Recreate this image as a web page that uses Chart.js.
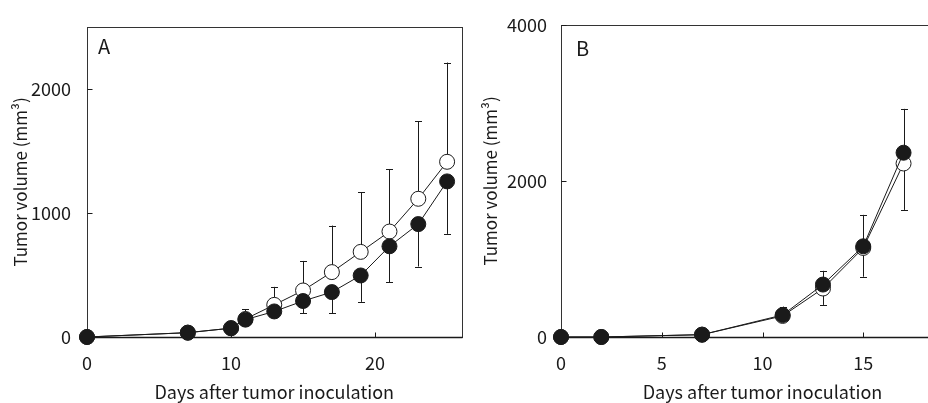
<!DOCTYPE html>
<html>
<head>
<meta charset="utf-8">
<script src="https://cdn.jsdelivr.net/npm/chart.js@4"></script>
<style>
  html, body { margin: 0; padding: 0; background: #fff; overflow: hidden; }
  #wrap { position: relative; width: 928px; height: 403px; overflow: hidden; }
  #chartA { position: absolute; left: 0; top: 0; }
  #chartB { position: absolute; left: 470px; top: 0; }
</style>
</head>
<body>
<div id="wrap">
  <canvas id="chartA" width="470" height="403"></canvas>
  <canvas id="chartB" width="519" height="403"></canvas>
</div>
<script>
// Panel A
const daysA = [0, 7, 10, 11, 13, 15, 17, 19, 21, 23, 25];
const filledA = [0, 35, 71, 140, 206, 290, 362, 496, 731, 910, 1254];
const filledErrA = [0, 0, 0, 0, 0, 100, 172, 213, 290, 342, 423];   // drawn downward
const openA = [0, 35, 71, 145, 259, 375, 523, 686, 850, 1114, 1412];
const openErrA = [0, 0, 0, 80, 145, 238, 375, 481, 504, 625, 800];   // drawn upward
const xTicksA = [0, 10, 20];
const yTicksA = [0, 1000, 2000];

// Panel B
const daysB = [0, 2, 7, 11, 13, 15, 17];
const filledB = [0, 0, 30, 282, 672, 1162, 2361];
const filledErrB = [0, 0, 0, 108, 176, 403, 562];   // drawn upward
const openB = [0, 0, 30, 270, 621, 1141, 2223];
const openErrB = [0, 0, 0, 0, 210, 369, 595];      // drawn downward
const xTicksB = [0, 5, 10, 15, 20];
const yTicksB = [0, 2000, 4000];

const ink = '#1a1a1a';
const fontFamily = '"Noto Sans CJK JP", "Noto Sans", sans-serif';

function points(xs, ys) {
    return xs.map((x, i) => ({ x: x, y: ys[i] }));
}

// error bars, frame, inward ticks and the panel letter
const decorations = {
    id: 'decorations',
    beforeDatasetsDraw(chart, args, opts) {
        const ctx = chart.ctx;
        const xs = chart.scales.x;
        const ys = chart.scales.y;
        const area = chart.chartArea;
        ctx.save();
        ctx.strokeStyle = ink;
        ctx.lineWidth = 1;

        // error bars
        opts.errors.forEach(err => {
            err.days.forEach((d, i) => {
                if (!err.sd[i]) return;
                const px = Math.round(xs.getPixelForValue(d)) + 0.5;
                const y0 = ys.getPixelForValue(err.mean[i]);
                const y1 = ys.getPixelForValue(err.mean[i] + err.dir * err.sd[i]);
                ctx.beginPath();
                ctx.moveTo(px, y0);
                ctx.lineTo(px, y1);
                ctx.moveTo(px - 3.5, Math.round(y1) + 0.5);
                ctx.lineTo(px + 3.5, Math.round(y1) + 0.5);
                ctx.stroke();
            });
        });

        // frame
        const l = Math.round(area.left) + 0.5;
        const r = Math.round(area.right) + 0.5;
        const t = Math.round(area.top) + 0.5;
        const b = Math.round(area.bottom) + 0.5;
        ctx.strokeStyle = '#333';
        ctx.strokeRect(l, t, r - l, b - t);
        ctx.strokeStyle = ink;
        ctx.lineWidth = 1.4;
        ctx.beginPath();
        ctx.moveTo(l, b);
        ctx.lineTo(r, b);
        ctx.stroke();

        // inward ticks
        ctx.lineWidth = 1;
        ctx.beginPath();
        xs.ticks.forEach(tk => {
            const px = Math.round(xs.getPixelForValue(tk.value)) + 0.5;
            ctx.moveTo(px, b);
            ctx.lineTo(px, b - 5);
        });
        ys.ticks.forEach(tk => {
            const py = Math.round(ys.getPixelForValue(tk.value)) + 0.5;
            ctx.moveTo(l, py);
            ctx.lineTo(l + 5, py);
        });
        ctx.stroke();

        // panel letter
        ctx.fillStyle = ink;
        ctx.font = '20px ' + fontFamily;
        ctx.textBaseline = 'alphabetic';
        ctx.fillText(opts.letter, area.left + opts.letterDx, area.top + opts.letterDy);
        ctx.restore();
    }
};

function makeChart(id, cfg) {
    return new Chart(document.getElementById(id), {
        type: 'line',
        data: {
            datasets: [
                {
                    label: 'filled',
                    data: points(cfg.days, cfg.filled),
                    borderColor: ink,
                    borderWidth: 1,
                    backgroundColor: ink,
                    pointBackgroundColor: ink,
                    pointBorderColor: ink,
                    pointBorderWidth: 1,
                    pointRadius: 7.5,
                    tension: 0,
                    clip: false
                },
                {
                    label: 'open',
                    data: points(cfg.days, cfg.open),
                    borderColor: ink,
                    borderWidth: 1,
                    pointBackgroundColor: '#fff',
                    pointBorderColor: ink,
                    pointBorderWidth: 1,
                    pointRadius: 7.5,
                    tension: 0,
                    clip: false
                }
            ]
        },
        options: {
            responsive: false,
            animation: false,
            events: [],
            layout: { padding: { top: cfg.padTop, right: 7, left: 0, bottom: 0 } },
            plugins: {
                legend: { display: false },
                tooltip: { enabled: false },
                decorations: {
                    letter: cfg.letter,
                    letterDx: cfg.letterDx,
                    letterDy: cfg.letterDy,
                    errors: cfg.errors
                }
            },
            scales: {
                x: {
                    type: 'linear',
                    min: 0,
                    max: cfg.xMax,
                    grid: { display: false, drawTicks: false },
                    border: { display: false },
                    afterBuildTicks: s => { s.ticks = cfg.xTicks.map(v => ({ value: v })); },
                    afterFit: s => { s.height = 66; },
                    ticks: {
                        padding: 15,
                        color: ink,
                        font: { family: fontFamily, size: 18 },
                        maxRotation: 0,
                        callback: v => String(v)
                    },
                    title: {
                        display: true,
                        text: 'Days after tumor inoculation',
                        color: ink,
                        font: { family: fontFamily, size: 18 },
                        padding: { top: 0, bottom: 0 }
                    }
                },
                y: {
                    type: 'linear',
                    min: 0,
                    max: cfg.yMax,
                    grid: { display: false, drawTicks: false },
                    border: { display: false },
                    afterBuildTicks: s => { s.ticks = cfg.yTicks.map(v => ({ value: v })); },
                    afterFit: s => { s.width = cfg.yWidth; },
                    ticks: {
                        padding: cfg.yPad,
                        color: ink,
                        font: { family: fontFamily, size: 18 },
                        callback: v => String(v)
                    },
                    title: {
                        display: true,
                        text: 'Tumor volume (mm³)',
                        color: ink,
                        font: { family: fontFamily, size: 17 },
                        padding: { top: 10, bottom: 0 }
                    }
                }
            }
        },
        plugins: [decorations]
    });
}

makeChart('chartA', {
    days: daysA, filled: filledA, open: openA,
    xMax: 26, yMax: 2500, xTicks: xTicksA, yTicks: yTicksA,
    padTop: 21, yWidth: 87, yPad: 16,
    letter: 'A', letterDx: 11, letterDy: 27,
    errors: [
        { days: daysA, mean: openA, sd: openErrA, dir: 1 },
        { days: daysA, mean: filledA, sd: filledErrA, dir: -1 }
    ]
});

makeChart('chartB', {
    days: daysB, filled: filledB, open: openB,
    xMax: 20, yMax: 4000, xTicks: xTicksB, yTicks: yTicksB,
    padTop: 20, yWidth: 91, yPad: 14,
    letter: 'B', letterDx: 15, letterDy: 31,
    errors: [
        { days: daysB, mean: filledB, sd: filledErrB, dir: 1 },
        { days: daysB, mean: openB, sd: openErrB, dir: -1 }
    ]
});
</script>
</body>
</html>
